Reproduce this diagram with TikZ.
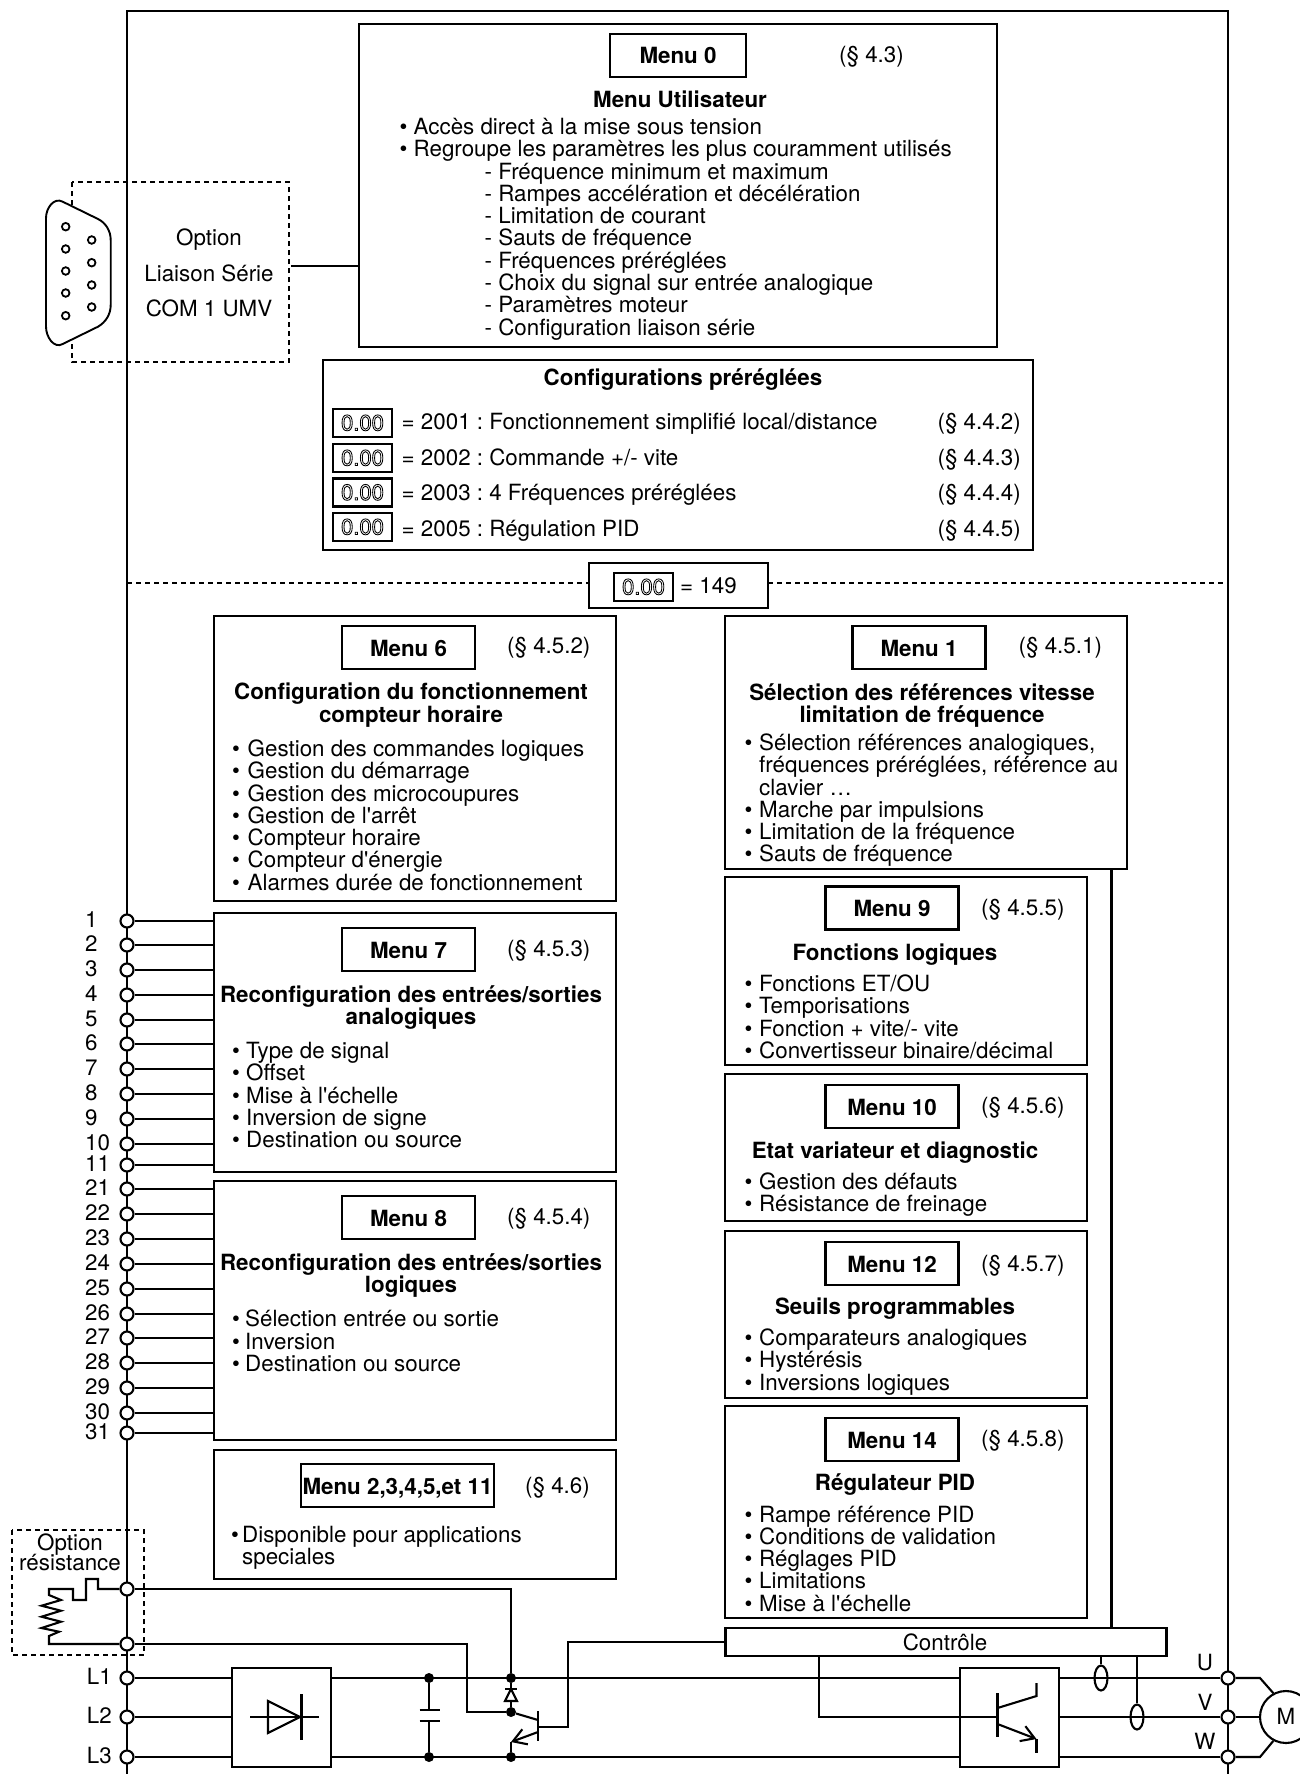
\documentclass[tikz,border=0pt]{standalone}
\usepackage{fontspec}
\setmainfont[Ligatures=TeXOff]{TeX Gyre Heros}
\usepackage{tikz}
\usetikzlibrary{arrows.meta,positioning,shapes.geometric}
\newcommand{\txt}{\fontsize{22.35}{22.3}\selectfont\frenchspacing}
\newcommand{\tops}{\rule{0pt}{15.6pt}}
\newcommand{\itm}[1][14pt]{\makebox[#1][l]{•}}
\newcommand{\dispval}{\special{pdf:code q 1 Tr 0.85 w 0 G}0.00\special{pdf:code Q}}
\tikzset{
  wire/.style={line width=2.1pt},
  outerbox/.style={draw,line width=2.1pt,fill=white,anchor=north west,inner sep=0pt,outer sep=0pt},
  menutitle/.style={draw,line width=2.1pt,minimum width=133pt,minimum height=43pt,inner sep=0pt,outer sep=0pt,text height=17pt,text depth=0pt,font=\txt\bfseries},
  heading/.style={anchor=north,align=center,inner sep=0pt,font=\txt\bfseries},
  reftext/.style={anchor=west,inner sep=0pt,text height=15pt,text depth=0pt,font=\txt},
  bullets/.style={anchor=north west,align=left,inner sep=0pt,font=\txt},
  plain/.style={inner sep=0pt,text height=15pt,text depth=0pt,font=\txt},
  term/.style={circle,draw,line width=2.1pt,fill=white,minimum size=13pt,inner sep=0pt},
  junction/.style={circle,fill=black,minimum size=10pt,inner sep=0pt},
  dispbox/.style={draw,line width=2.1pt,minimum width=59pt,minimum height=28pt,inner sep=0pt,outer sep=0pt,text height=15pt,text depth=0pt,font=\fontsize{22}{24}\selectfont},
  sensor/.style={ellipse,draw,line width=2.1pt,minimum width=13pt,minimum height=25pt,inner sep=0pt},
  optbox/.style={line width=2.1pt,dash pattern=on 5pt off 4pt},
}
\begin{document}
\begin{tikzpicture}[x=1pt,y=-1pt,line join=miter]
  \useasboundingbox (0,0) rectangle (1300,1774);
  \fill[white] (0,0) rectangle (1300,1774);
  \draw[wire] (127,1774) -- (127,11) -- (1228,11) -- (1228,1774);
  \draw[optbox] (72,182) rectangle (289,362);
  \draw[line width=1.9pt,fill=white] (46,218) .. controls (46,208) and (54,197) .. (62.7,201.7) -- (98,219) .. controls (106,223) and (110.7,231) .. (110.7,240) -- (110.7,305) .. controls (110.7,314) and (106,322) .. (98,326.7) -- (62.7,344) .. controls (54,349) and (46,337) .. (46,326.7) -- cycle;
  \foreach \yy in {226.7,249,271,293,315.7} \draw[line width=1.8pt,fill=white] (65.7,\yy) circle (3.8);
  \foreach \yy in {240,262.7,285,307} \draw[line width=1.8pt,fill=white] (91.7,\yy) circle (3.8);
  \node[plain] (optlink) at (209,237.5) {Option};
  \node[plain] (optlink2) at (209,273.5) {Liaison Série};
  \node[plain] (optlink3) at (209,308.5) {COM 1 UMV};
  \coordinate (optedge) at (291,266);

  \node[outerbox,minimum width=638pt,minimum height=323pt] (menu0) at (359,24) {};
  \draw[wire] (optedge) -- (optedge -| menu0.west);
  \node[menutitle,minimum width=136pt] (m0title) at (678,55.5) {Menu 0};
  \node[reftext] (m0ref) at (839,55) {(§ 4.3)};
  \node[heading] (m0head) at (680,90.5) {\tops Menu Utilisateur};
  \node[bullets] (m0list) at (399.5,118) {\tops\itm Accès direct à la mise sous tension\\
    \itm Regroupe les paramètres les plus couramment utilisés\\
    \hspace*{85pt}- Fréquence minimum et maximum\\
    \hspace*{85pt}- Rampes accélération et décélération\\
    \hspace*{85pt}- Limitation de courant\\
    \hspace*{85pt}- Sauts de fréquence\\
    \hspace*{85pt}- Fréquences préréglées\\
    \hspace*{85pt}- Choix du signal sur entrée analogique\\
    \hspace*{85pt}- Paramètres moteur\\
    \hspace*{85pt}- Configuration liaison série};

  \node[outerbox,minimum width=710pt,minimum height=190pt] (config) at (323,360) {};
  \node[heading] (confhead) at (683,368) {\tops Configurations préréglées};
  \foreach \n/\yy/\ty/\lbl/\sect in {1/423/422/{= 2001 : Fonctionnement simplifié local/distance}/{(§ 4.4.2)},
      2/458/458/{= 2002 : Commande +/- vite}/{(§ 4.4.3)},
      3/492.5/492.5/{= 2003 : 4 Fréquences préréglées}/{(§ 4.4.4)},
      4/527/529/{= 2005 : Régulation PID}/{(§ 4.4.5)}} {
    \node[dispbox] (disp\n) at (362.5,\yy) {\dispval};
    \node[reftext] (conf\n) at (401.5,\ty) {\lbl};
    \node[plain,anchor=east] (confref\n) at (1021,\ty) {\sect};
  }

  \node[outerbox,minimum width=179pt,minimum height=45pt] (access) at (589,563) {};
  \node[dispbox] (disp0) at (643.5,587) {\dispval};
  \node[reftext] (accessval) at (680,586) {= 149};
  \coordinate (dashl) at (127,583);
  \coordinate (dashr) at (1228,583);
  \draw[optbox] (dashl) -- (access.west |- dashl);
  \draw[optbox] (access.east |- dashr) -- (dashr);

  \node[outerbox,minimum width=402pt,minimum height=285pt] (menu6) at (214,616) {};
  \node[menutitle] (m6title) at (408.5,647.5) {Menu 6};
  \node[reftext] (m6ref) at (507,646) {(§ 4.5.2)};
  \node[heading] (m6head) at (411,683) {\tops Configuration du fonctionnement\\compteur horaire};
  \node[bullets] (m6list) at (232,739.5) {\tops\itm[15.5pt]Gestion des commandes logiques\\
    \itm[15.5pt]Gestion du démarrage\\
    \itm[15.5pt]Gestion des microcoupures\\
    \itm[15.5pt]Gestion de l'arrêt\\
    \itm[15.5pt]Compteur horaire\\
    \itm[15.5pt]Compteur d'énergie\\
    \itm[15.5pt]Alarmes durée de fonctionnement};

  \node[outerbox,minimum width=402pt,minimum height=259pt] (menu7) at (214,913) {};
  \node[menutitle] (m7title) at (408.5,949.5) {Menu 7};
  \node[reftext] (m7ref) at (507,949) {(§ 4.5.3)};
  \node[heading] (m7head) at (411,985.5) {\tops Reconfiguration des entrées/sorties\\analogiques};
  \node[bullets] (m7list) at (232,1042) {\tops\itm Type de signal\\
    \itm Offset\\
    \itm Mise à l'échelle\\
    \itm Inversion de signe\\
    \itm Destination ou source};

  \node[outerbox,minimum width=402pt,minimum height=259pt] (menu8) at (214,1181) {};
  \node[menutitle] (m8title) at (408.5,1217.5) {Menu 8};
  \node[reftext] (m8ref) at (507,1217) {(§ 4.5.4)};
  \node[heading] (m8head) at (411,1253) {\tops Reconfiguration des entrées/sorties\\logiques};
  \node[bullets] (m8list) at (232,1310) {\tops\itm[13pt]Sélection entrée ou sortie\\
    \itm[13pt]Inversion\\
    \itm[13pt]Destination ou source};

  \node[outerbox,minimum width=402pt,minimum height=129pt] (menu2) at (214,1450) {};
  \node[menutitle,minimum width=193pt] (m2title) at (397.5,1485.5) {Menu 2,3,4,5,et 11};
  \node[reftext] (m2ref) at (525,1485.5) {(§ 4.6)};
  \node[bullets] (m2list) at (231,1526) {\tops\itm[11pt]Disponible pour applications\\
    \hspace*{11pt}speciales};

  \node[outerbox,minimum width=402pt,minimum height=253pt] (menu1) at (725,616) {};
  \node[menutitle] (m1title) at (919,647.5) {Menu 1};
  \node[reftext] (m1ref) at (1018.5,646) {(§ 4.5.1)};
  \node[heading] (m1head) at (922,683) {\tops Sélection des références vitesse\\limitation de fréquence};
  \node[bullets] (m1list) at (744.5,733.5) {\tops\itm[14.5pt]Sélection références analogiques,\\
    \hspace*{14.5pt}fréquences préréglées, référence au\\
    \hspace*{14.5pt}clavier …\\
    \itm[14.5pt]Marche par impulsions\\
    \itm[14.5pt]Limitation de la fréquence\\
    \itm[14.5pt]Sauts de fréquence};

  \node[outerbox,minimum width=362pt,minimum height=188pt] (menu9) at (725,877) {};
  \node[menutitle] (m9title) at (892,908) {Menu 9};
  \node[reftext] (m9ref) at (981,908) {(§ 4.5.5)};
  \node[heading] (m9head) at (895,944) {\tops Fonctions logiques};
  \node[bullets] (m9list) at (744.5,974.5) {\tops\itm[14.5pt]Fonctions ET/OU\\
    \itm[14.5pt]Temporisations\\
    \itm[14.5pt]Fonction + vite/- vite\\
    \itm[14.5pt]Convertisseur binaire/décimal};

  \node[outerbox,minimum width=362pt,minimum height=147pt] (menu10) at (725,1074) {};
  \node[menutitle] (m10title) at (892,1106.5) {Menu 10};
  \node[reftext] (m10ref) at (981,1106) {(§ 4.5.6)};
  \node[heading] (m10head) at (895,1141.5) {\tops Etat variateur et diagnostic};
  \node[bullets] (m10list) at (744.5,1172.5) {\tops\itm[14.5pt]Gestion des défauts\\
    \itm[14.5pt]Résistance de freinage};

  \node[outerbox,minimum width=362pt,minimum height=167pt] (menu12) at (725,1231) {};
  \node[menutitle] (m12title) at (892,1263.5) {Menu 12};
  \node[reftext] (m12ref) at (981,1264) {(§ 4.5.7)};
  \node[heading] (m12head) at (895,1298) {\tops Seuils programmables};
  \node[bullets] (m12list) at (744.5,1328.5) {\tops\itm[14.5pt]Comparateurs analogiques\\
    \itm[14.5pt]Hystérésis\\
    \itm[14.5pt]Inversions logiques};

  \node[outerbox,minimum width=362pt,minimum height=212pt] (menu14) at (725,1406) {};
  \node[menutitle] (m14title) at (892,1439.5) {Menu 14};
  \node[reftext] (m14ref) at (981,1439) {(§ 4.5.8)};
  \node[heading] (m14head) at (895,1473) {\tops Régulateur PID};
  \node[bullets] (m14list) at (744.5,1505.5) {\tops\itm[14.5pt]Rampe référence PID\\
    \itm[14.5pt]Conditions de validation\\
    \itm[14.5pt]Réglages PID\\
    \itm[14.5pt]Limitations\\
    \itm[14.5pt]Mise à l'échelle};

  \foreach \n/\yy in {1/921,2/945,3/970,4/995,5/1020,6/1044,7/1069,8/1094,9/1119,10/1144,11/1165,
      21/1189,22/1214,23/1239,24/1264,25/1289,26/1314,27/1338,28/1363,29/1388,30/1413,31/1433} {
    \node[term] (t\n) at (127,\yy) {};
    \node[plain,anchor=west] (tlabel\n) at (85,\yy-1) {\n};
  }
  \foreach \n in {1,...,11} \draw[wire] (t\n) -- (t\n -| menu7.west);
  \foreach \n in {21,...,31} \draw[wire] (t\n) -- (t\n -| menu8.west);

  \draw[optbox] (12,1530) rectangle (144,1655);
  \node[plain] (resopt) at (70,1543) {Option};
  \node[plain] (resopt2) at (70,1563) {résistance};
  \node[term] (br1) at (127,1589) {};
  \node[term] (br2) at (127,1644) {};
  \node[term] (l1) at (127,1678) {};
  \node[term] (l2) at (127,1717) {};
  \node[term] (l3) at (127,1757) {};
  \node[term] (u) at (1228,1678) {};
  \node[term] (v) at (1228,1717) {};
  \node[term] (w) at (1228,1757) {};
  \node[plain,anchor=east] (l1lbl) at (112,1677) {L1};
  \node[plain,anchor=east] (l2lbl) at (112,1716) {L2};
  \node[plain,anchor=east] (l3lbl) at (112,1756) {L3};
  \node[plain] (ulbl) at (1205,1663) {U};
  \node[plain] (vlbl) at (1205,1703) {V};
  \node[plain] (wlbl) at (1205,1742) {W};

  \node[outerbox,minimum width=99pt,minimum height=99pt] (rect) at (232,1668) {};
  \node[outerbox,minimum width=99pt,minimum height=99pt] (inv) at (960,1668) {};
  \node[outerbox,minimum width=441pt,minimum height=28pt] (ctrl) at (725.5,1628) {};
  \node[plain] (ctrllbl) at (945,1643) {Contrôle};
  \node[circle,draw,line width=2.1pt,minimum size=52pt,inner sep=0pt,text height=15pt,text depth=0pt,font=\txt] (mot) at (1286,1717) {M};
  \node[sensor] (s1) at (1101,1678) {};
  \node[sensor] (s2) at (1137,1717) {};
  \node[junction] (c1) at (429,1678) {};
  \node[junction] (c2) at (429,1757) {};
  \node[junction] (j1) at (511,1678) {};
  \node[junction] (j2) at (511,1712) {};
  \node[junction] (j3) at (511,1757) {};

  \draw[wire] (l1) -- (l1 -| rect.west);
  \draw[wire] (l2) -- (l2 -| rect.west);
  \draw[wire] (l3) -- (l3 -| rect.west);
  \draw[wire] (l1 -| rect.east) -- (l1 -| inv.west);
  \draw[wire] (l3 -| rect.east) -- (l3 -| inv.west);
  \draw[wire] (u -| inv.east) -- (u);
  \draw[wire] (v -| inv.east) -- (v);
  \draw[wire] (w -| inv.east) -- (w);
  \draw[wire] (u) -- (1260,1678) -- (mot.118);
  \draw[wire] (v) -- (mot);
  \draw[wire] (w) -- (1260,1757) -- (mot.242);
  \draw[wire] (menu1.south -| 1111.5,0) -- (ctrl.north -| 1111.5,0);
  \draw[wire] (ctrl.south -| s1) -- (s1);
  \draw[wire] (ctrl.south -| s2) -- (s2);
  \draw[wire] (ctrl.west) -| (568,1727) -- (538,1727);
  \draw[wire] (ctrl.south -| 819,0) -- (819,1717) -- (997.5,1717);
  \draw[wire] (br1) -- (j1 |- br1) -- (j1);
  \draw[wire] (br2) -- (467,1644) -- (467,1712) -- (j2);
  \draw[wire] (br1) -- (98,1589) -- (98,1579) -- (86,1579) -- (86,1600) -- (73,1600) -- (73,1589) -- (49,1589) -- (49,1595) -- (61,1600) -- (41.5,1605.7) -- (61,1610.7) -- (41.5,1616.7) -- (61,1621.7) -- (41.5,1628) -- (59,1631.7) -- (49,1636) -- (49,1644) -- (br2);

  \draw[wire] (250,1717) -- (319,1717);
  \draw[wire] (268,1701) -- (268,1733) -- (300,1717) -- cycle;
  \draw[wire] (301.5,1694) -- (301.5,1740);
  \draw[wire] (c1) -- (429,1710);
  \draw[wire] (c2) -- (429,1721);
  \draw[wire] (419.5,1710) -- (439.5,1710);
  \draw[wire] (419.5,1721) -- (439.5,1721);
  \draw[wire] (j1) -- (j2);
  \draw[wire,fill=white] (511,1689) -- (505,1701) -- (517,1701) -- cycle;
  \draw[wire] (505,1689) -- (517,1689);
  \draw[wire] (538,1711) -- (538,1741);
  \draw[wire] (j2) -- (538,1720);
  \draw[wire,-{Straight Barb[length=13pt,width=16pt]}] (538,1732) -- (511,1742);
  \draw[wire] (511,1742) -- (j3);
  \draw[wire] (997.5,1693) -- (997.5,1737);
  \draw[wire] (997.5,1708) -- (1036.5,1696) -- (1036.5,1683);
  \draw[wire,-{Straight Barb[length=13pt,width=16pt]}] (997.5,1724) -- (1036.5,1739);
  \draw[wire] (1036.5,1739) -- (1036.5,1753);
\end{tikzpicture}
\end{document}
